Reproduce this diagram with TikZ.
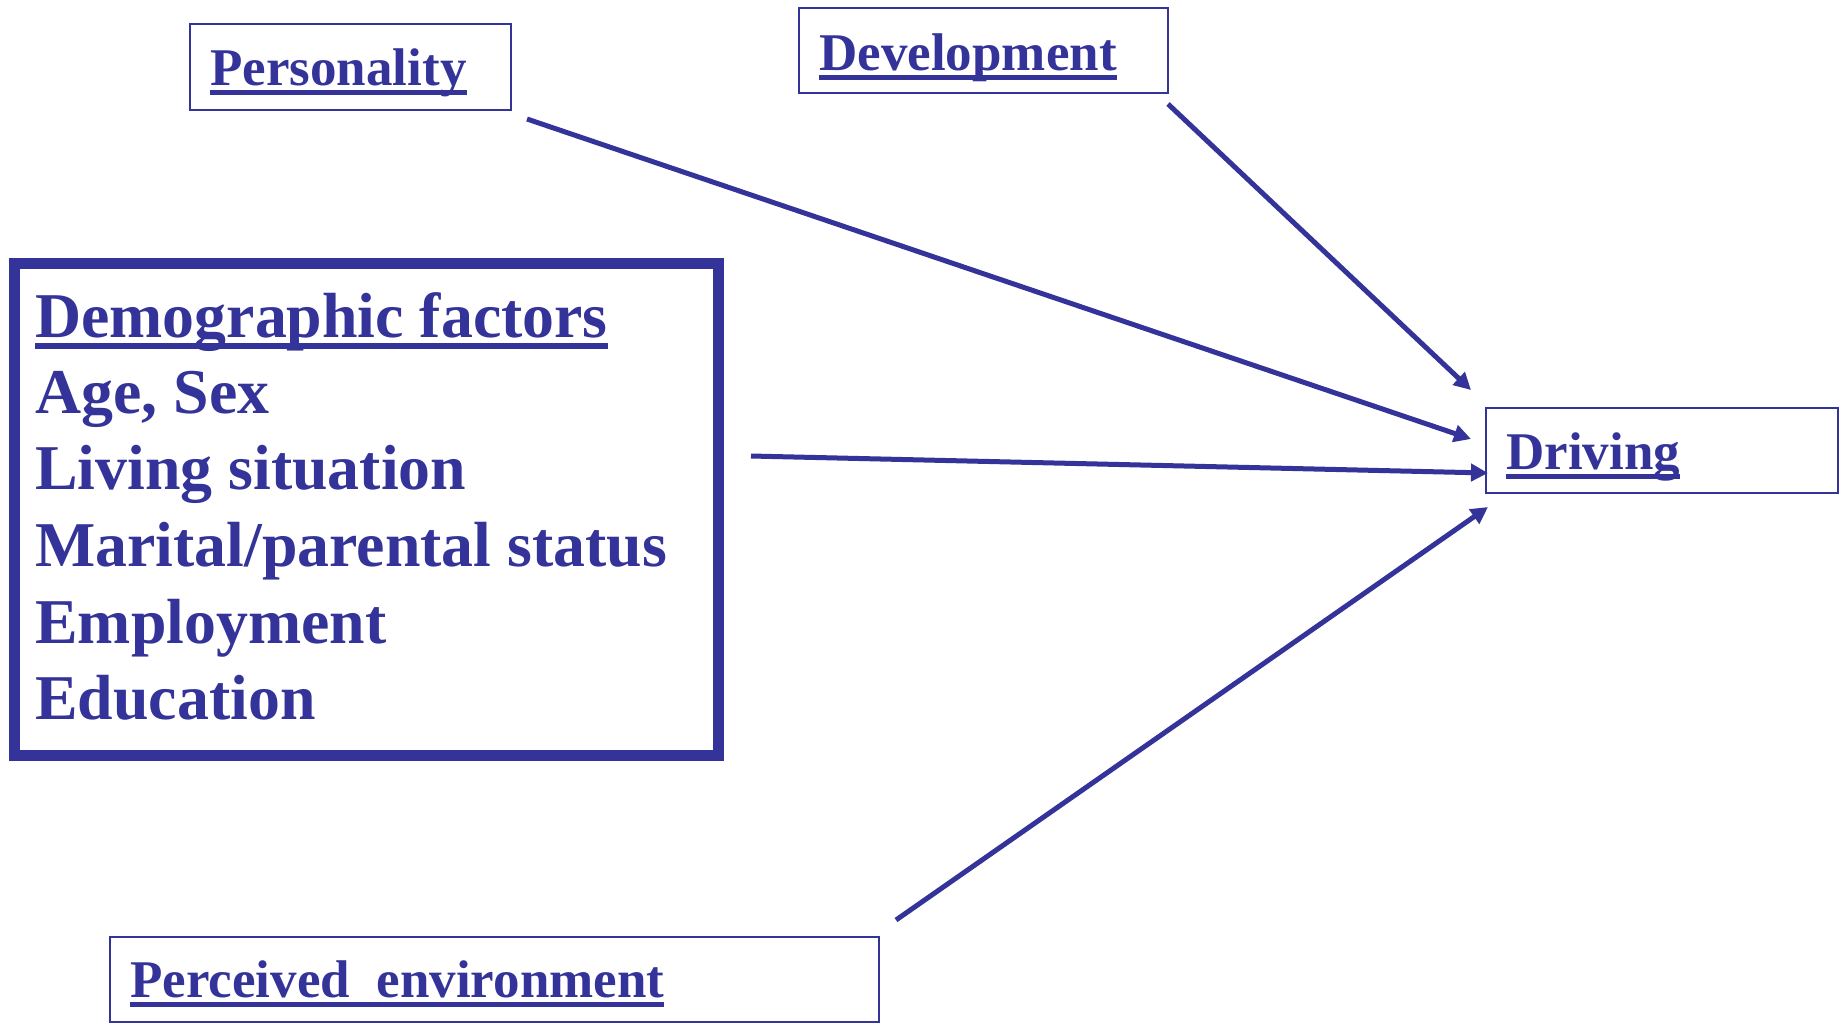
\documentclass[tikz,border=0pt]{standalone}
\usepackage{fontspec}
\setmainfont{Liberation Serif}
\usetikzlibrary{arrows.meta}
\definecolor{navy}{RGB}{51,51,153}
\newsavebox\ulbox
\newcommand\ulx[1]{\sbox\ulbox{#1}\rlap{\rule[-0.19em]{\wd\ulbox}{0.095em}}\usebox\ulbox}
\begin{document}
\begin{tikzpicture}[x=0.5pt,y=-0.5pt,
  smallbox/.style={draw=navy,line width=1.1pt,rectangle,inner sep=0pt},
  bigbox/.style={draw=navy,line width=5.5pt,rectangle,inner sep=0pt},
  lbl/.style={anchor=base west,inner sep=0pt,text=navy,font=\fontsize{26.5pt}{32pt}\selectfont\bfseries},
  demo/.style={anchor=base west,inner sep=0pt,text=navy,font=\fontsize{31.9pt}{38pt}\selectfont\bfseries},
  arr/.style={draw=navy,line width=2.5pt,-{Triangle[length=8.5pt,width=8.5pt]}}]
\useasboundingbox (0,0) rectangle (1845,1024);
% boxes
\node[smallbox,minimum width=160.5pt,minimum height=43pt] (pers) at (350.5,67) {};
\node[smallbox,minimum width=184.5pt,minimum height=42.5pt] (dev) at (983.5,50.5) {};
\node[smallbox,minimum width=176pt,minimum height=42.5pt] (drv) at (1662,450.5) {};
\node[smallbox,minimum width=384.5pt,minimum height=42.5pt] (perc) at (494.5,979.5) {};
\node[bigbox,minimum width=352pt,minimum height=246pt] (dem) at (366.5,509.5) {};
% labels
\node[lbl] (perst) at (210,85) {\ulx{Personality}};
\node[lbl] (devt) at (819,70) {\ulx{Development}};
\node[lbl] (drvt) at (1506,469) {\ulx{Driving}};
\node[lbl] (perct) at (130,997) {\ulx{Perceived\ \ environment}};
\node[demo] (d1) at (35,337) {\ulx{Demographic factors}};
\node[demo] (d2) at (35,413) {Age, Sex};
\node[demo] (d3) at (35,489) {Living situation};
\node[demo] (d4) at (35,566) {Marital/parental status};
\node[demo] (d5) at (35,643) {Employment};
\node[demo] (d6) at (35,719) {Education};
% connector ends
\coordinate (ps) at (527,119);
\coordinate (pe) at (1471,439);
\coordinate (vs) at (1168,104);
\coordinate (ve) at (1471,390);
\coordinate (ds) at (751,456);
\coordinate (de) at (1488,473);
\coordinate (es) at (896,920);
\coordinate (ee) at (1488,507);
\draw[arr] (ps) -- (pe);
\draw[arr] (vs) -- (ve);
\draw[arr] (ds) -- (de);
\draw[arr] (es) -- (ee);
\end{tikzpicture}
\end{document}
